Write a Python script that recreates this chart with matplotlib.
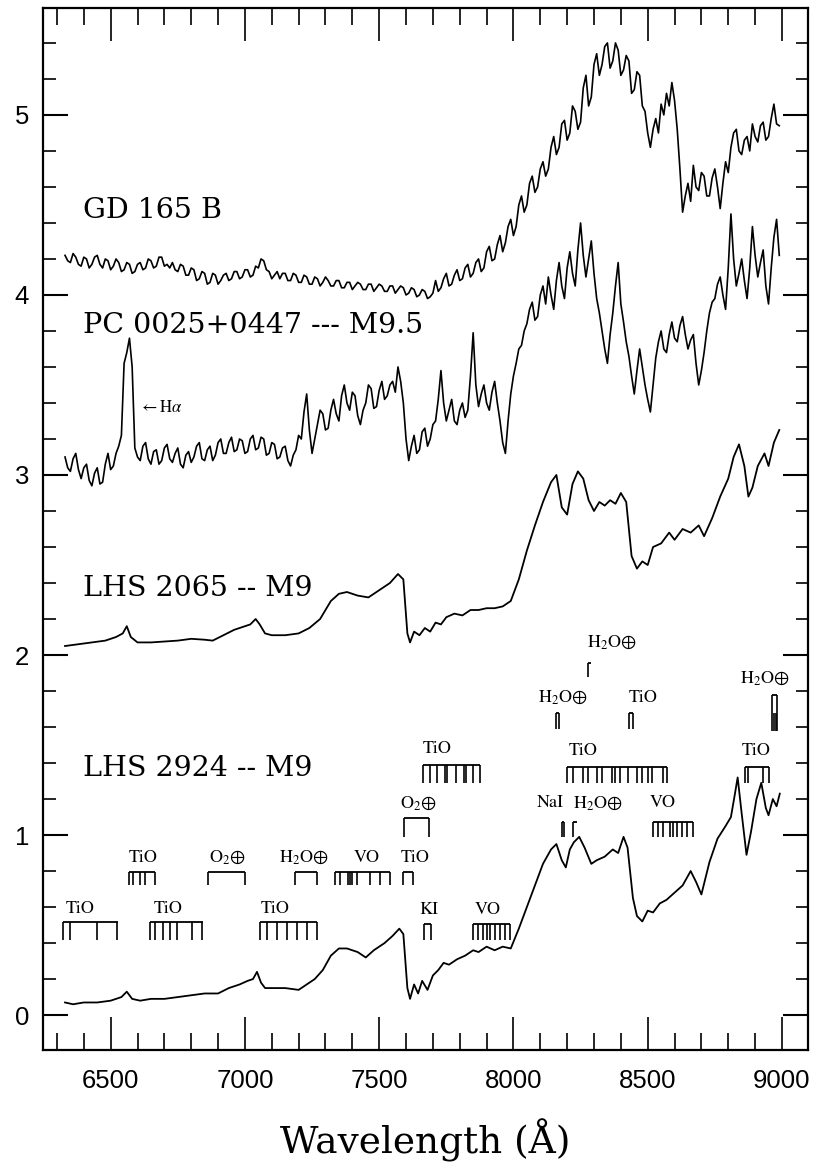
import numpy as np
import matplotlib
matplotlib.use("Agg")
import matplotlib.pyplot as plt
from matplotlib.ticker import MultipleLocator

plt.rcParams['mathtext.fontset'] = 'stix'

# --- spectra -------------------------------------------------------------
# noisy spectra, sampled every 10 A starting at 6330 A
noisy_start = 6330
noisy_step = 10

gd165b_flux = [
    4.22, 4.19, 4.18, 4.23, 4.21, 4.17, 4.16, 4.21, 4.20, 4.15, 4.17, 4.21, 4.22, 4.17, 4.15, 4.20, 4.19, 4.14, 4.16, 4.20,
    4.18, 4.13, 4.14, 4.18, 4.17, 4.12, 4.13, 4.17, 4.18, 4.14, 4.15, 4.20, 4.19, 4.15, 4.16, 4.21, 4.21, 4.16, 4.17, 4.15,
    4.18, 4.14, 4.13, 4.17, 4.16, 4.11, 4.11, 4.15, 4.14, 4.08, 4.09, 4.13, 4.12, 4.06, 4.07, 4.12, 4.11, 4.06, 4.08, 4.11,
    4.12, 4.08, 4.09, 4.13, 4.13, 4.09, 4.10, 4.14, 4.14, 4.10, 4.11, 4.16, 4.15, 4.20, 4.19, 4.14, 4.13, 4.09, 4.11, 4.13,
    4.09, 4.12, 4.12, 4.08, 4.08, 4.12, 4.11, 4.07, 4.07, 4.11, 4.10, 4.06, 4.06, 4.10, 4.09, 4.05, 4.07, 4.10, 4.08, 4.05,
    4.05, 4.08, 4.08, 4.04, 4.04, 4.07, 4.07, 4.03, 4.05, 4.07, 4.06, 4.03, 4.03, 4.06, 4.06, 4.02, 4.04, 4.06, 4.05, 4.02,
    4.02, 4.05, 4.05, 4.01, 4.03, 4.05, 4.04, 4.00, 4.01, 4.04, 4.03, 3.99, 4.00, 4.03, 4.02, 3.98, 3.99, 4.01, 4.08, 4.02,
    4.04, 4.09, 4.12, 4.05, 4.06, 4.11, 4.14, 4.08, 4.09, 4.15, 4.17, 4.10, 4.12, 4.18, 4.20, 4.13, 4.15, 4.24, 4.27, 4.19,
    4.20, 4.28, 4.33, 4.24, 4.29, 4.38, 4.42, 4.33, 4.38, 4.50, 4.55, 4.46, 4.50, 4.62, 4.66, 4.57, 4.60, 4.70, 4.74, 4.66,
    4.70, 4.82, 4.88, 4.78, 4.82, 4.95, 4.97, 4.86, 4.90, 5.05, 5.02, 4.92, 4.96, 5.15, 5.22, 5.05, 5.10, 5.28, 5.34, 5.22,
    5.28, 5.38, 5.40, 5.26, 5.30, 5.40, 5.36, 5.22, 5.25, 5.33, 5.30, 5.12, 5.14, 5.24, 5.22, 5.05, 5.02, 4.90, 4.82, 4.92,
    4.98, 4.90, 5.06, 5.00, 5.12, 5.05, 5.18, 5.08, 4.92, 4.70, 4.46, 4.55, 4.62, 4.52, 4.72, 4.60, 4.58, 4.68, 4.66, 4.55,
    4.55, 4.65, 4.70, 4.60, 4.48, 4.62, 4.74, 4.68, 4.82, 4.90, 4.92, 4.80, 4.78, 4.86, 4.88, 4.80, 4.95, 4.88, 4.85, 4.94,
    4.96, 4.86, 4.88, 4.98, 5.06, 4.95, 4.94,
]

pc0025_flux = [
    3.10, 3.04, 3.02, 3.09, 3.12, 3.03, 2.98, 3.04, 3.06, 2.97, 2.94, 3.01, 3.04, 2.95, 2.96, 3.06, 3.12, 3.03, 3.05, 3.12,
    3.16, 3.22, 3.62, 3.68, 3.76, 3.60, 3.15, 3.10, 3.08, 3.16, 3.18, 3.09, 3.06, 3.13, 3.14, 3.06, 3.08, 3.15, 3.17, 3.09,
    3.07, 3.12, 3.15, 3.06, 3.04, 3.11, 3.13, 3.07, 3.10, 3.16, 3.18, 3.09, 3.08, 3.14, 3.16, 3.08, 3.11, 3.18, 3.20, 3.12,
    3.12, 3.18, 3.21, 3.13, 3.14, 3.20, 3.19, 3.12, 3.13, 3.20, 3.22, 3.14, 3.15, 3.21, 3.20, 3.11, 3.12, 3.18, 3.17, 3.09,
    3.10, 3.15, 3.16, 3.08, 3.05, 3.11, 3.14, 3.22, 3.20, 3.35, 3.45, 3.25, 3.12, 3.20, 3.28, 3.36, 3.34, 3.25, 3.26, 3.36,
    3.42, 3.34, 3.30, 3.44, 3.50, 3.40, 3.36, 3.46, 3.44, 3.33, 3.28, 3.36, 3.40, 3.50, 3.48, 3.37, 3.38, 3.47, 3.52, 3.42,
    3.44, 3.50, 3.52, 3.46, 3.60, 3.52, 3.40, 3.20, 3.08, 3.16, 3.22, 3.12, 3.14, 3.24, 3.26, 3.16, 3.20, 3.28, 3.30, 3.42,
    3.58, 3.40, 3.30, 3.36, 3.42, 3.30, 3.28, 3.36, 3.40, 3.32, 3.36, 3.55, 3.79, 3.50, 3.38, 3.45, 3.50, 3.40, 3.36, 3.46,
    3.52, 3.40, 3.30, 3.18, 3.12, 3.30, 3.45, 3.55, 3.62, 3.70, 3.72, 3.80, 3.84, 3.92, 3.96, 3.86, 3.88, 4.00, 4.05, 3.95,
    4.10, 4.00, 3.92, 4.08, 4.18, 4.05, 3.98, 4.15, 4.24, 4.12, 4.05, 4.25, 4.40, 4.22, 4.10, 4.20, 4.30, 4.12, 3.98, 3.90,
    3.80, 3.70, 3.62, 3.78, 3.90, 4.05, 4.18, 3.95, 3.85, 3.74, 3.66, 3.55, 3.45, 3.58, 3.70, 3.60, 3.50, 3.42, 3.35, 3.50,
    3.65, 3.74, 3.80, 3.70, 3.68, 3.78, 3.85, 3.76, 3.74, 3.83, 3.88, 3.78, 3.70, 3.75, 3.78, 3.62, 3.50, 3.58, 3.68, 3.80,
    3.90, 3.96, 3.98, 4.06, 4.10, 4.00, 3.92, 4.15, 4.45, 4.20, 4.05, 4.12, 4.20, 4.08, 3.98, 4.15, 4.38, 4.22, 4.10, 4.18,
    4.25, 4.05, 3.95, 4.15, 4.32, 4.42, 4.22,
]

# smooth spectra (wavelength, flux)
lhs2065_wl = [6330, 6380, 6430, 6480, 6520, 6545, 6560, 6575, 6600, 6650,
              6700, 6750, 6800, 6850, 6880, 6920, 6960, 7000, 7020, 7040,
              7055, 7075, 7100, 7150, 7200, 7240, 7280, 7320, 7350, 7380,
              7420, 7460, 7500, 7540, 7570, 7590, 7605, 7615, 7630, 7650,
              7670, 7690, 7710, 7730, 7750, 7780, 7810, 7840, 7870, 7900,
              7930, 7960, 7990, 8020, 8050, 8080, 8110, 8140, 8160, 8180,
              8200, 8220, 8240, 8260, 8280, 8300, 8320, 8340, 8360, 8380,
              8400, 8420, 8440, 8460, 8480, 8500, 8520, 8550, 8580, 8600,
              8630, 8660, 8690, 8710, 8740, 8770, 8800, 8820, 8840, 8860,
              8875, 8890, 8910, 8935, 8950, 8970, 8990]
lhs2065_flux = [2.05, 2.06, 2.07, 2.08, 2.10, 2.12, 2.16, 2.10, 2.07, 2.07,
                2.075, 2.08, 2.09, 2.085, 2.08, 2.11, 2.14, 2.16, 2.17, 2.20,
                2.17, 2.12, 2.11, 2.11, 2.12, 2.15, 2.20, 2.30, 2.34, 2.35,
                2.33, 2.32, 2.36, 2.40, 2.45, 2.42, 2.12, 2.07, 2.13, 2.11,
                2.15, 2.13, 2.18, 2.17, 2.21, 2.23, 2.22, 2.25, 2.25, 2.26,
                2.26, 2.27, 2.30, 2.42, 2.58, 2.72, 2.85, 2.96, 3.00, 2.82,
                2.78, 2.95, 3.02, 2.98, 2.86, 2.80, 2.85, 2.83, 2.86, 2.84,
                2.90, 2.85, 2.55, 2.48, 2.52, 2.50, 2.60, 2.62, 2.68, 2.64,
                2.70, 2.68, 2.72, 2.66, 2.76, 2.88, 2.98, 3.10, 3.17, 3.05,
                2.88, 2.93, 3.05, 3.12, 3.05, 3.18, 3.25]

lhs2924_wl = [6330, 6360, 6400, 6450, 6500, 6540, 6560, 6580, 6610, 6650,
              6700, 6750, 6800, 6850, 6900, 6940, 6980, 7010, 7030, 7045,
              7060, 7075, 7100, 7150, 7200, 7230, 7260, 7290, 7320, 7350,
              7380, 7420, 7450, 7480, 7520, 7550, 7575, 7590, 7605, 7615,
              7630, 7645, 7660, 7680, 7700, 7720, 7740, 7760, 7790, 7820,
              7850, 7870, 7900, 7930, 7960, 7990, 8020, 8050, 8080, 8110,
              8140, 8160, 8180, 8195, 8210, 8225, 8245, 8265, 8290, 8310,
              8340, 8370, 8390, 8410, 8425, 8445, 8460, 8480, 8500, 8520,
              8545, 8570, 8600, 8630, 8660, 8680, 8700, 8730, 8760, 8790,
              8810, 8825, 8835, 8850, 8868, 8885, 8905, 8923, 8940, 8950,
              8966, 8980, 8992]
lhs2924_flux = [0.07, 0.06, 0.07, 0.07, 0.08, 0.10, 0.13, 0.09, 0.08, 0.09,
                0.09, 0.10, 0.11, 0.12, 0.12, 0.15, 0.17, 0.19, 0.20, 0.24,
                0.18, 0.15, 0.15, 0.15, 0.14, 0.17, 0.20, 0.25, 0.33, 0.37,
                0.37, 0.35, 0.32, 0.36, 0.40, 0.44, 0.48, 0.45, 0.15, 0.09,
                0.17, 0.12, 0.19, 0.14, 0.22, 0.25, 0.29, 0.28, 0.31, 0.33,
                0.36, 0.35, 0.38, 0.36, 0.38, 0.37, 0.48, 0.60, 0.72, 0.84,
                0.92, 0.95, 0.86, 0.82, 0.92, 0.96, 0.99, 0.93, 0.84, 0.86,
                0.88, 0.92, 0.90, 0.99, 0.93, 0.65, 0.55, 0.52, 0.58, 0.57,
                0.62, 0.64, 0.68, 0.72, 0.80, 0.74, 0.67, 0.85, 0.98, 1.05,
                1.10, 1.23, 1.32, 1.12, 0.89, 1.02, 1.20, 1.29, 1.15, 1.11,
                1.20, 1.16, 1.23]

star_labels = ["GD 165 B", "PC 0025+0447 --- M9.5", "LHS 2065 -- M9", "LHS 2924 -- M9"]
star_label_y = [4.43, 3.79, 2.33, 1.33]

# --- line identifications: label, label x, label baseline, span, tick xs, top, bottom
features = [
    ("TiO", 6385, 0.567, (6322, 6527), [6322, 6350, 6450, 6525], 0.517, 0.417),
    ("TiO", 6713, 0.567, (6647, 6845), [6647, 6665, 6695, 6721, 6747, 6803, 6840], 0.517, 0.417),
    ("TiO", 7111, 0.567, (7056, 7268), [7056, 7082, 7119, 7156, 7194, 7231, 7268], 0.517, 0.417),
    ("KI", 7684, 0.560, (7668, 7694), [7668, 7694], 0.505, 0.417),
    ("VO", 7905, 0.560, (7849, 7987), [7849, 7868, 7886, 7900, 7912, 7931, 7950, 7968, 7987], 0.505, 0.417),
    ("TiO", 6620, 0.850, (6569, 6665), [6569, 6584, 6610, 6628, 6665], 0.794, 0.72),
    ("O$_2$⊕", 6933, 0.850, (6862, 7000), [6862, 7000], 0.794, 0.72),
    ("H$_2$O⊕", 7220, 0.850, (7187, 7268), [7187, 7268], 0.794, 0.72),
    ("VO", 7453, 0.850, (7334, 7540), [7334, 7353, 7383, 7391, 7398, 7416, 7465, 7502, 7540], 0.794, 0.72),
    ("TiO", 7635, 0.850, (7589, 7626), [7589, 7626], 0.794, 0.72),
    ("O$_2$⊕", 7645, 1.155, (7592, 7686), [7592, 7686], 1.094, 0.99),
    ("NaI", 8136, 1.155, (8180, 8190), [8180, 8190], 1.07, 0.99),
    ("H$_2$O⊕", 8314, 1.155, (8223, 8238), [8223], 1.07, 0.99),
    ("VO", 8556, 1.155, (8519, 8667), [8519, 8537, 8556, 8582, 8593, 8608, 8626, 8645, 8667], 1.07, 0.99),
    ("TiO", 7715, 1.455, (7664, 7876), [7664, 7690, 7715, 7745, 7752, 7785, 7815, 7822, 7850, 7876], 1.39, 1.29),
    ("TiO", 8260, 1.445, (8199, 8571), [8199, 8221, 8258, 8277, 8310, 8329, 8366, 8377, 8396,
                                        8426, 8459, 8478, 8500, 8515, 8556, 8571], 1.38, 1.29),
    ("TiO", 8905, 1.445, (8862, 8951), [8862, 8873, 8930, 8951], 1.38, 1.29),
    ("H$_2$O⊕", 8185, 1.74, (8160, 8168), [8160, 8168], 1.68, 1.59),
    ("TiO", 8483, 1.74, (8430, 8444), [8430, 8444], 1.68, 1.59),
    ("H$_2$O⊕", 8365, 2.045, (8277, 8290), [8277], 1.955, 1.88),
    ("H$_2$O⊕", 8936, 1.845, (8964, 8982), [8964, 8982], 1.78, 1.58),
    ("", 0, 0, None, [8970, 8976], 1.68, 1.58),
]

# --- figure ---------------------------------------------------------------
fig = plt.figure(figsize=(8.14, 11.71), dpi=100)
ax = fig.add_axes([43 / 814, 1 - 1050 / 1171, 765 / 814, 1042 / 1171])

gd_wl = noisy_start + noisy_step * np.arange(len(gd165b_flux))
pc_wl = noisy_start + noisy_step * np.arange(len(pc0025_flux))
ax.plot(gd_wl, gd165b_flux, color='black', lw=1.2)
ax.plot(pc_wl, pc0025_flux, color='black', lw=1.2)
ax.plot(lhs2065_wl, lhs2065_flux, color='black', lw=1.3)
ax.plot(lhs2924_wl, lhs2924_flux, color='black', lw=1.3)

for txt, yy in zip(star_labels, star_label_y):
    ax.text(6397, yy, txt, fontsize=20.5, family='DejaVu Serif', va='baseline', ha='left')

ax.text(6605, 3.35, r"$\leftarrow\mathrm{H}\alpha$", fontsize=12, va='baseline', ha='left')

for lab, lx, ly, span, ticks, ytop, ybot in features:
    if lab:
        ax.text(lx, ly, lab, fontsize=13, family='STIXGeneral', ha='center', va='baseline')
    if span is not None:
        ax.plot(span, [ytop, ytop], color='black', lw=1.3, solid_capstyle='butt')
    for t in ticks:
        ax.plot([t, t], [ytop, ybot], color='black', lw=1.2, solid_capstyle='butt')

ax.set_xlim(6248, 9097)
ax.set_ylim(-0.194, 5.594)

ax.xaxis.set_major_locator(MultipleLocator(500))
ax.xaxis.set_minor_locator(MultipleLocator(100))
ax.yaxis.set_major_locator(MultipleLocator(1))
ax.yaxis.set_minor_locator(MultipleLocator(0.2))

ax.tick_params(axis='both', which='both', direction='in', top=True, right=True, color='black')
ax.tick_params(axis='x', which='major', length=24, width=1.2, pad=14)
ax.tick_params(axis='x', which='minor', length=12, width=1.2)
ax.tick_params(axis='y', which='major', length=18, width=1.5, pad=10)
ax.tick_params(axis='y', which='minor', length=9, width=1.2)

for lbl in ax.get_xticklabels() + ax.get_yticklabels():
    lbl.set_family('Liberation Sans')
    lbl.set_fontsize(18.5)

for sp in ax.spines.values():
    sp.set_linewidth(1.6)

ax.set_xlabel("Wavelength (Å)", fontsize=27, family='DejaVu Serif', labelpad=18)

fig.savefig("out.png", dpi=100)
